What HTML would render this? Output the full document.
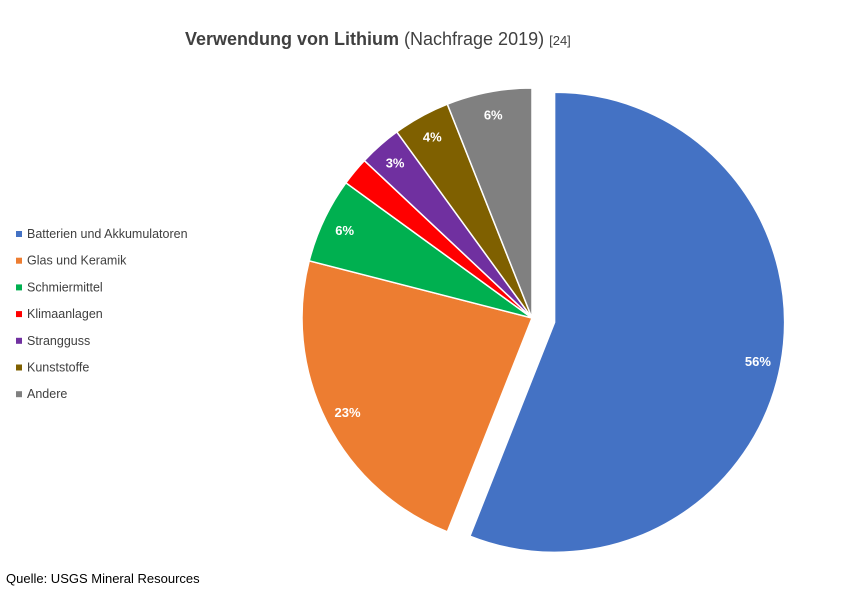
<!DOCTYPE html>
<html><head><meta charset="utf-8"><style>
body{margin:0;background:#fff;width:852px;height:597px;overflow:hidden;font-family:"Liberation Sans",sans-serif}
</style></head><body>
<svg width="852" height="597">
<text x="185" y="45" font-size="18" fill="#404040"><tspan font-weight="bold">Verwendung von Lithium</tspan> (Nachfrage 2019) <tspan font-size="13">[24]</tspan></text>
<g id="pie"></g>
<g id="legend"></g>
<text x="6" y="583" font-size="13" fill="#000">Quelle: USGS Mineral Resources</text>
</svg>
<script>
const categories=["Batterien und Akkumulatoren","Glas und Keramik","Schmiermittel","Klimaanlagen","Stranggus","Kunststoffe","Andere"];
categories[4]="Strangguss";
const values=[56,23,6,2,3,4,6];
const labels=["56%","23%","6%","","3%","4%","6%"];
const colors=["#4472c4","#ed7d31","#00b050","#ff0000","#7030a0","#7f6000","#808080"];
const NS="http://www.w3.org/2000/svg";
const pie=document.getElementById('pie'),leg=document.getElementById('legend');
const cx=532,cy=318,r=230,explode=23;
const total=values.reduce((a,b)=>a+b,0);
let cum=0;
values.forEach((v,i)=>{
  const a0=cum/total*2*Math.PI, a1=(cum+v)/total*2*Math.PI; cum+=v;
  const am=(a0+a1)/2;
  const off=i===0?explode:0;
  const ox=cx+off*Math.sin(am), oy=cy-off*Math.cos(am);
  const x0=ox+r*Math.sin(a0),y0=oy-r*Math.cos(a0),x1=ox+r*Math.sin(a1),y1=oy-r*Math.cos(a1);
  const p=document.createElementNS(NS,'path');
  p.setAttribute('d',`M${ox},${oy}L${x0},${y0}A${r},${r} 0 ${a1-a0>Math.PI?1:0} 1 ${x1},${y1}Z`);
  p.setAttribute('fill',colors[i]);p.setAttribute('stroke','#fff');p.setAttribute('stroke-width','1.5');
  
  
  pie.appendChild(p);
  if(labels[i]){
    const t=document.createElementNS(NS,'text');
    t.setAttribute('x',ox+r*0.9*Math.sin(am));t.setAttribute('y',oy-r*0.9*Math.cos(am)+5);
    t.setAttribute('text-anchor','middle');t.setAttribute('font-size','13');t.setAttribute('font-weight','bold');t.setAttribute('fill','#fff');
    t.textContent=labels[i];
    
    
    pie.appendChild(t);
  }
  const ly=237+i*26.7;
  const s=document.createElementNS(NS,'rect');
  s.setAttribute('x',16);s.setAttribute('y',ly-6);s.setAttribute('width',6);s.setAttribute('height',6);s.setAttribute('fill',colors[i]);
  
  
  leg.appendChild(s);
  const lt=document.createElementNS(NS,'text');
  lt.setAttribute('x',27);lt.setAttribute('y',ly+1);lt.setAttribute('font-size','12.5');lt.setAttribute('fill','#404040');
  lt.textContent=categories[i];
  
  
  leg.appendChild(lt);
});
</script>
</body></html>
